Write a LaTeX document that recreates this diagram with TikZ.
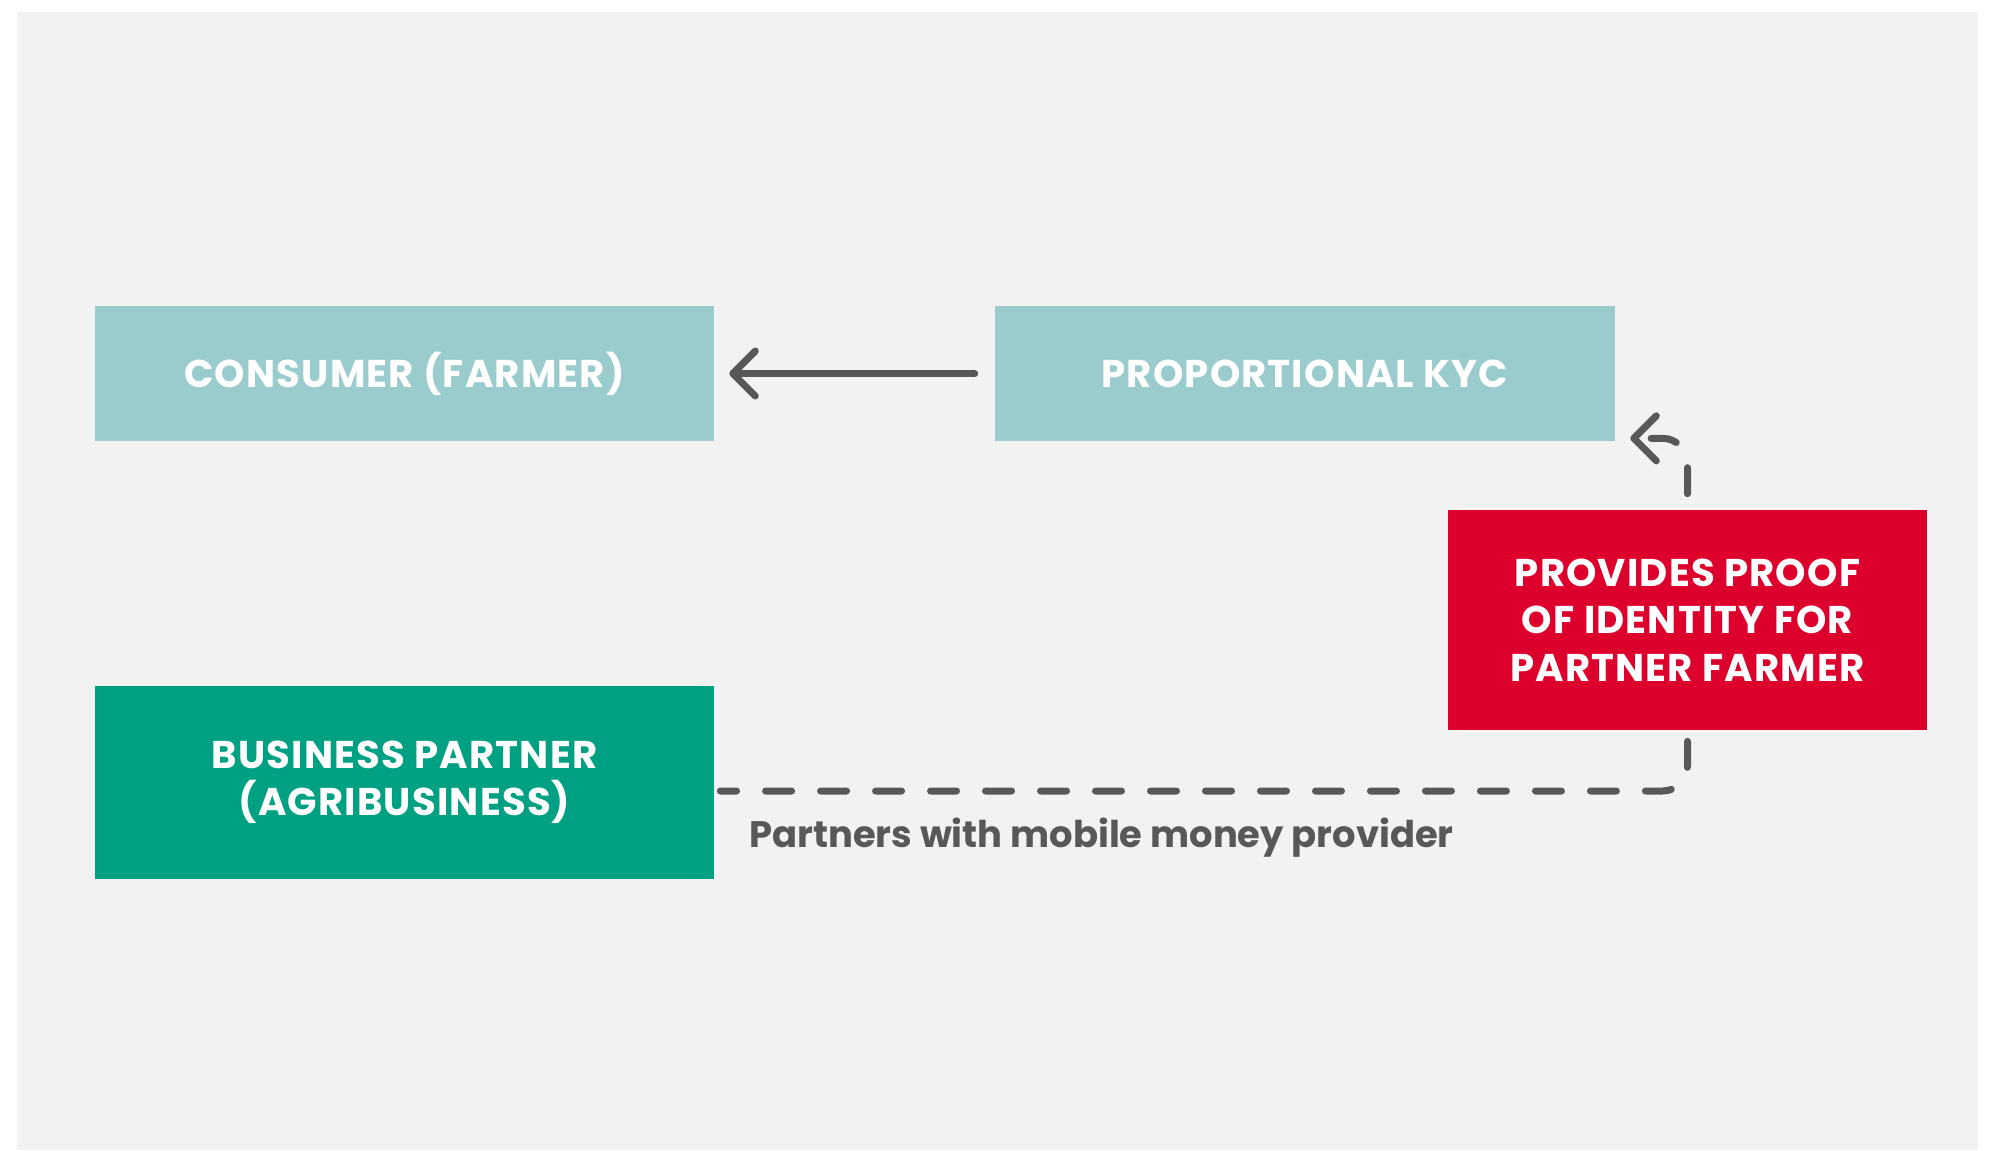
\documentclass[tikz,border=0pt]{standalone}
\usepackage{fontspec}
\setmainfont{Poppins}
\newfontfamily\cardfont{Poppins}[LetterSpace=3]
\usetikzlibrary{arrows.meta}
\definecolor{cpaper}{RGB}{241,242,241}
\definecolor{cteal}{RGB}{155,204,205}
\definecolor{cgreen}{RGB}{0,161,130}
\definecolor{cred}{RGB}{221,0,45}
\definecolor{cgrey}{RGB}{88,88,90}
\tikzset{kycpic/.style={x=0.02cm,y=-0.02cm},
  card/.style={inner sep=0pt,text=white,align=center,font=\cardfont\bfseries\fontsize{22}{27}\selectfont},
  flow/.style={cgrey,line width=0.14cm,line cap=round,line join=round,
    -{Straight Barb[length=0.45cm,width=0.9cm,round]}},
  dashflow/.style={cgrey,line width=0.14cm,line cap=round,
    dash pattern=on 0.52cm off 0.58cm,rounded corners=0.5cm}}

\begin{document}
\begin{tikzpicture}[kycpic]
    \useasboundingbox (0,0) rectangle (1991,1150);
    \fill[cpaper] (17,12) rectangle (1978,1150);
    \node[card,fill=cteal,minimum width=12.38cm,minimum height=2.7cm] (consumer) at (404.5,373.5) {CONSUMER (FARMER)};
    \node[card,fill=cteal,minimum width=12.4cm,minimum height=2.7cm] (kyc) at (1305,373.5) {PROPORTIONAL KYC};
    \node[card,fill=cred,minimum width=9.6cm,minimum height=4.4cm] (proof) at (1687.5,620) {PROVIDES PROOF\\OF IDENTITY FOR\\PARTNER FARMER};
    \node[card,fill=cgreen,minimum width=12.38cm,minimum height=3.86cm] (business) at (404.5,782.5) {BUSINESS PARTNER\\(AGRIBUSINESS)};
    \node[cgrey,anchor=west,inner sep=0pt,font=\bfseries\fontsize{21}{25}\selectfont] (note) at (749,838) {Partners with mobile money provider};
    \draw[flow] ([xshift=-0.4cm]kyc.west) -- ([xshift=0.3cm]consumer.east);
    \draw[dashflow] ([yshift=-0.22cm]proof.south) |- ([xshift=0.12cm,yshift=-0.17cm]business.east);   % money provider
    \draw[flow,dashflow] ([yshift=0.32cm]proof.north) |- ([xshift=0.3cm,yshift=0.06cm]kyc.south east);
\end{tikzpicture}
\end{document}
